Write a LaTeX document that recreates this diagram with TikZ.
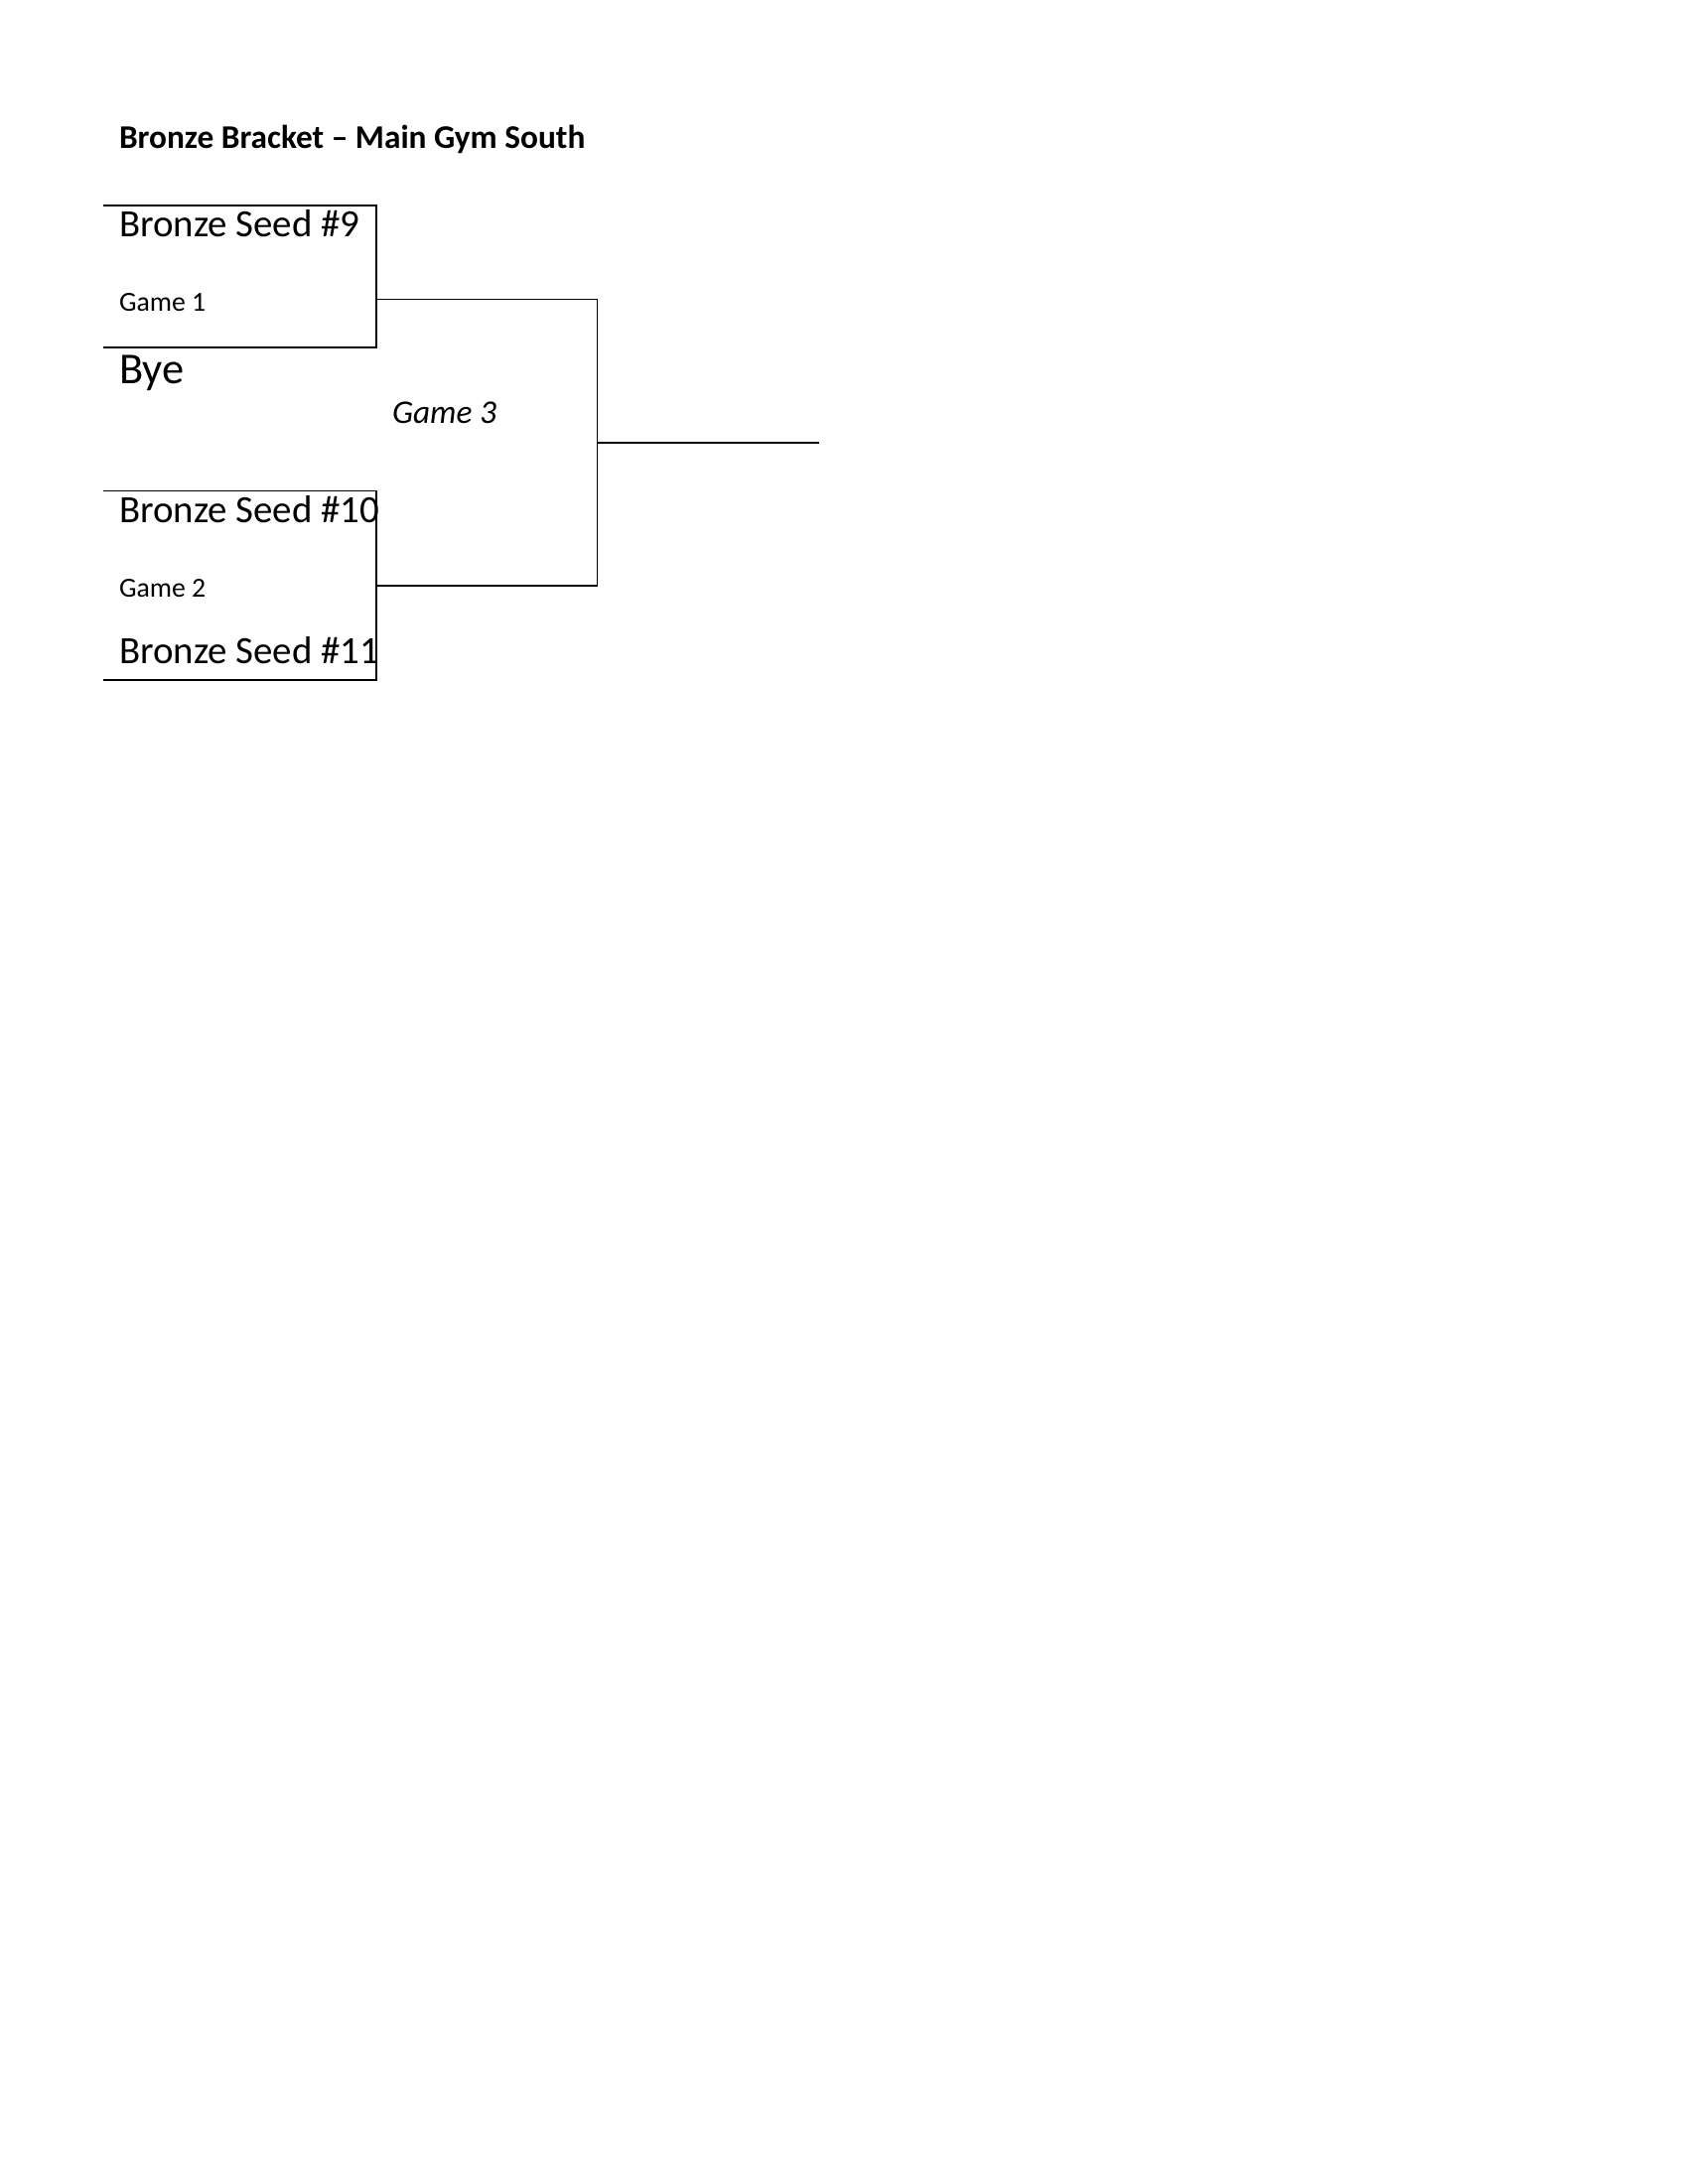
\documentclass[tikz,border=0pt]{standalone}
\usepackage{fontspec}
\setmainfont{Carlito}
\usetikzlibrary{positioning}

\tikzset{
  team/.style={anchor=base west, inner sep=0pt, font=\fontsize{14}{16}\selectfont},
  game/.style={anchor=base west, inner sep=0pt, font=\fontsize{10}{12}\selectfont},
  line/.style={draw, line width=0.6pt}
}

\begin{document}
\begin{tikzpicture}[x=0.5pt, y=-0.5pt]
    \useasboundingbox (0,0) rectangle (1224,1584);

    % title
    \node[anchor=base west, inner sep=0pt, font=\fontsize{12}{14}\selectfont\bfseries] (title) at (86,108) {Bronze Bracket -- Main Gym South};

    % game 1
    \node[team] (seed9) at (86,172) {Bronze Seed \#9};
    \node[game] (g1) at (86,226) {Game 1};
    \node[anchor=base west, inner sep=0pt, font=\fontsize{16}{18}\selectfont] (bye) at (86,278) {Bye};
    \coordinate (a1) at (75,149);
    \coordinate (a2) at (273,149);
    \coordinate (a3) at (273,252);
    \coordinate (a4) at (75,252);
    \draw[line] (a1) -- (a2) -- (a3) -- (a4);

    % game 2
    \node[team] (seed10) at (86,379) {Bronze Seed \#10};
    \node[game] (g2) at (86,433) {Game 2};
    \node[team] (seed11) at (86,481) {Bronze Seed \#11};
    \coordinate (b1) at (75,356);
    \coordinate (b2) at (273,356);
    \coordinate (b3) at (273,493);
    \coordinate (b4) at (75,493);
    \draw[line] (b1) -- (b2) -- (b3) -- (b4);

    % game 3
    \node[anchor=base west, inner sep=0pt, font=\fontsize{12}{14}\selectfont\itshape] (g3) at (284,307) {Game 3};
    \coordinate (c1) at (273,217);
    \coordinate (c2) at (433,217);
    \coordinate (c3) at (433,425);
    \coordinate (c4) at (273,425);
    \draw[line] (c1) -- (c2) -- (c3) -- (c4);
    \coordinate (w1) at (433,321);
    \coordinate (w2) at (594,321);
    \draw[line] (w1) -- (w2);
\end{tikzpicture}
\end{document}
